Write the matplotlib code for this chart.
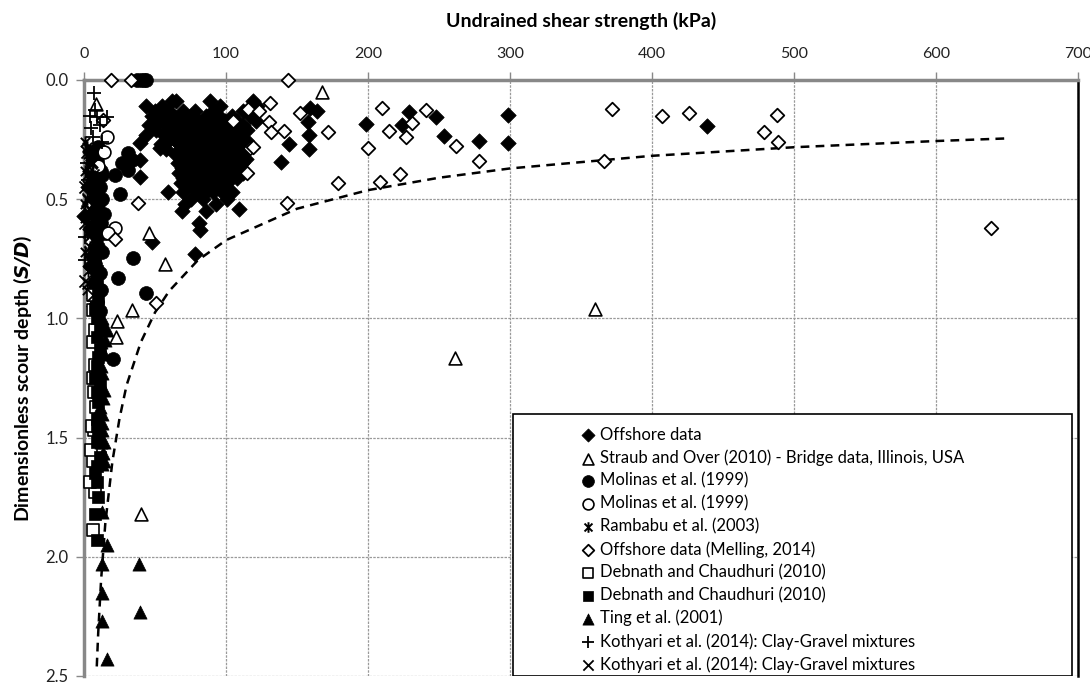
import matplotlib.pyplot as plt
from matplotlib.patches import Rectangle
from matplotlib.path import Path

# undrained shear strength Su (kPa), dimensionless scour depth S/D
offshore = [
    (65, 0.09), (89, 0.09), (119, 0.09),
    (44, 0.11), (55, 0.11), (96, 0.11), (118, 0.11), (122, 0.11),
    (50, 0.13), (60, 0.13), (70, 0.13), (78, 0.13), (91, 0.13), (112, 0.13), (120, 0.13),
    (48, 0.15), (57, 0.15), (63, 0.15), (68, 0.15), (75, 0.15), (86, 0.15), (95, 0.15), (104, 0.15), (117, 0.15),
    (53, 0.17), (60, 0.17), (66, 0.17), (72, 0.17), (80, 0.17), (88, 0.17), (99, 0.17), (108, 0.17), (121, 0.17),
    (46, 0.19), (58, 0.19), (64, 0.19), (70, 0.19), (77, 0.19), (84, 0.19), (92, 0.19), (103, 0.19), (112, 0.19),
    (51, 0.21), (62, 0.21), (68, 0.21), (74, 0.21), (82, 0.21), (90, 0.21), (97, 0.21), (106, 0.21), (115, 0.21),
    (44, 0.23), (56, 0.23), (66, 0.23), (71, 0.23), (78, 0.23), (86, 0.23), (94, 0.23), (100, 0.23), (110, 0.23),
    (60, 0.25), (64, 0.25), (70, 0.25), (76, 0.25), (81, 0.25), (88, 0.25), (95, 0.25), (103, 0.25), (108, 0.25), (114, 0.25),
    (54, 0.27), (67, 0.27), (73, 0.27), (79, 0.27), (84, 0.27), (90, 0.27), (97, 0.27), (105, 0.27), (111, 0.27),
    (58, 0.29), (70, 0.29), (75, 0.29), (80, 0.29), (86, 0.29), (92, 0.29), (99, 0.29), (107, 0.29), (113, 0.29),
    (64, 0.31), (72, 0.31), (77, 0.31), (83, 0.31), (88, 0.31), (94, 0.31), (101, 0.31), (105, 0.31), (110, 0.31),
    (68, 0.33), (74, 0.33), (79, 0.33), (85, 0.33), (90, 0.33), (96, 0.33), (103, 0.33), (108, 0.33), (114, 0.33),
    (66, 0.35), (71, 0.35), (76, 0.35), (82, 0.35), (87, 0.35), (93, 0.35), (99, 0.35), (106, 0.35), (111, 0.35),
    (69, 0.37), (74, 0.37), (80, 0.37), (85, 0.37), (90, 0.37), (96, 0.37), (101, 0.37), (109, 0.37),
    (67, 0.39), (72, 0.39), (78, 0.39), (83, 0.39), (88, 0.39), (94, 0.39), (100, 0.39), (105, 0.39), (112, 0.39),
    (70, 0.41), (75, 0.41), (81, 0.41), (86, 0.41), (92, 0.41), (97, 0.41), (103, 0.41), (108, 0.41),
    (68, 0.43), (73, 0.43), (79, 0.43), (84, 0.43), (90, 0.43), (95, 0.43), (101, 0.43),
    (72, 0.45), (77, 0.45), (82, 0.45), (88, 0.45), (93, 0.45), (99, 0.45),
    (59, 0.47), (70, 0.47), (80, 0.47), (86, 0.47), (91, 0.47), (97, 0.47), (104, 0.47),
    (75, 0.50), (84, 0.50), (101, 0.50), (71, 0.52), (93, 0.52), (69, 0.55), (86, 0.55), (109, 0.54),
    (81, 0.60), (82, 0.63), (48, 0.68), (78, 0.73),
    (0, 0.57), (39.5, 0.265), (39.5, 0.335), (39.5, 0.405), (53.6, 0.286), (61.8, 0.087),
    (159, 0.117), (164, 0.13), (158, 0.175), (158.6, 0.23), (158.6, 0.29), (144.7, 0.27), (139, 0.345),
    (198.7, 0.186), (229, 0.133), (224, 0.19), (248, 0.154), (253.4, 0.235), (278.4, 0.256),
    (298.8, 0.147), (298.8, 0.265), (438.8, 0.193),
    (4, 0.30), (7, 0.34), (3, 0.45), (6, 0.50), (9, 0.55), (5, 0.62), (8, 0.70), (4, 0.78),
]

straub_over = [
    (8.5, 0.10), (167.5, 0.05), (46, 0.64), (57, 0.77), (34, 0.965), (23.5, 1.01),
    (22.5, 1.08), (261, 1.165), (360, 0.96), (40, 1.82), (14, 1.04),
]

molinas_filled = [
    (37, 0.0), (40, 0.0), (42, 0.0), (44, 0.0),
    (31, 0.305), (26.5, 0.35), (33.6, 0.335), (31, 0.377), (22, 0.40), (25, 0.48),
    (34.7, 0.748), (24.2, 0.83), (44, 0.895), (20.5, 1.17),
    (8, 0.40), (11, 0.45), (13, 0.50), (7, 0.56), (12, 0.60), (9, 0.66), (13, 0.72),
    (8, 0.77), (11, 0.81), (12, 0.88), (9, 0.93), (14, 0.56), (15, 0.64), (10, 0.52),
    (6, 0.30), (9, 0.34), (12, 0.38), (5, 0.44), (9, 0.48), (6, 0.62), (10, 0.70),
    (6, 0.74), (7, 0.85), (11, 0.97), (13, 0.40), (10, 0.28),
]

molinas_open = [
    (16, 0.24), (22, 0.62), (17, 0.64), (10, 0.36), (14, 0.30),
]

rambabu = [
    (2, 0.28), (4, 0.32), (3, 0.36), (5, 0.40), (2, 0.44), (4, 0.48), (6, 0.52),
    (3, 0.56), (5, 0.60), (2, 0.64), (4, 0.70), (6, 0.74), (3, 0.80), (5, 0.86), (2, 0.50),
    (7, 0.30), (1, 0.38), (7, 0.44), (1, 0.58),
    (1, 0.26), (3, 0.31), (6, 0.35), (2, 0.40), (4, 0.43), (7, 0.47), (1, 0.52), (5, 0.55),
    (3, 0.60), (6, 0.67), (1, 0.72), (4, 0.76), (7, 0.82), (2, 0.88), (5, 0.93),
]

melling = [
    (19, 0.0), (33, 0.0), (144, 0.0),
    (13.6, 0.168), (38, 0.517), (21.8, 0.665), (51, 0.935), (143, 0.514),
    (179, 0.43), (208.6, 0.426), (222.7, 0.395), (210, 0.119), (214.5, 0.213), (227, 0.238),
    (231, 0.18), (240.7, 0.127), (200, 0.284), (172, 0.217), (131, 0.098), (117, 0.287),
    (114.6, 0.39), (105, 0.172), (115.8, 0.12), (123, 0.128), (130, 0.178), (132, 0.217),
    (140.5, 0.213), (152, 0.14), (119, 0.28), (261.8, 0.277), (278.4, 0.34), (366, 0.338),
    (372, 0.123), (406.8, 0.151), (426.3, 0.14), (479, 0.218), (488.3, 0.147), (489, 0.258),
    (639, 0.62),
]

debnath_open = [
    (6.1, 1.887), (7.8, 1.73), (4.2, 1.685), (6.6, 1.60), (7.0, 1.467), (5.4, 1.453),
    (8.5, 1.37), (7.0, 1.31), (6.1, 1.25), (7.8, 1.195), (6.6, 1.10), (6.6, 0.90),
    (6.6, 0.964), (5.0, 1.55), (7.5, 1.05),
]

debnath_filled = [
    (8.9, 1.93), (8.9, 1.685), (8.9, 1.52), (11.3, 1.13), (8.9, 0.845), (10, 0.92),
    (9, 1.0), (11, 1.05), (9, 1.2), (11, 1.28), (10, 1.35), (9, 1.42), (10, 1.50),
    (11, 1.58), (8, 1.65),
    (8, 0.75), (9, 0.80), (10, 0.88), (8, 0.96), (9, 1.08), (10, 1.16), (8, 1.25),
    (9, 1.31), (9, 1.45), (9, 1.62), (10, 1.75), (8, 1.82),
]

ting = [
    (12.5, 1.81), (16.4, 1.95), (12.5, 2.03), (12.5, 2.15), (12.5, 2.27), (16.4, 2.43),
    (39, 2.03), (39.5, 2.23), (12.5, 1.61), (13.2, 1.565), (12.5, 1.40), (13.6, 1.335),
    (11.3, 1.28), (16, 1.048), (13, 1.00), (12, 1.10), (14, 1.15), (12, 1.20), (13, 1.47),
    (14, 1.52), (13, 1.23), (11, 1.37), (13, 1.44), (12, 1.52), (14, 1.60), (15, 1.09),
    (14, 1.30),
]

kothyari_plus = [
    (7, 0.056), (7.7, 0.126), (9, 0.154), (16, 0.154), (11.3, 0.189), (6.6, 0.238),
    (12.5, 0.258), (4, 0.15), (1, 0.66), (1, 0.755), (3, 0.42), (2, 0.35), (5, 0.20),
]

kothyari_cross = [
    (1, 0.845), (9, 0.964), (10, 0.953), (3, 0.50), (2, 0.30), (5, 0.65), (4, 0.72),
    (0.5, 0.60), (6, 0.40), (2, 0.55), (5, 0.35), (1, 0.45), (3, 0.85), (6, 0.90),
]

# envelope curve drawn through the plot
curve_su = [9, 10, 12, 15, 20, 25, 30, 40, 50, 60, 80, 100, 150, 200, 250, 300, 400, 500, 600, 650]
curve_sd = [2.46, 2.32, 2.10, 1.86, 1.60, 1.42, 1.28, 1.10, 0.975, 0.885, 0.757, 0.672,
            0.540, 0.462, 0.410, 0.371, 0.318, 0.282, 0.256, 0.245]

plt.rcParams['font.family'] = ['Lato', 'DejaVu Sans']

# asterisk marker: an X with a vertical bar through it
star = Path([(0, -1), (0, 1), (-0.75, -0.75), (0.75, 0.75), (-0.75, 0.75), (0.75, -0.75)],
            [Path.MOVETO, Path.LINETO, Path.MOVETO, Path.LINETO, Path.MOVETO, Path.LINETO])

fig = plt.figure(figsize=(10.9, 6.93), dpi=100)
ax = fig.add_axes([84 / 1090, 1 - 676 / 693, 994 / 1090, 596 / 693])


def pts(data):
    return [p[0] for p in data], [p[1] for p in data]


series = [
    (offshore, dict(marker='D', s=62, facecolor='black', edgecolor='black', linewidths=0.5), 'Offshore data'),
    (straub_over, dict(marker='^', s=85, facecolor='white', edgecolor='black', linewidths=1.2),
     'Straub and Over (2010) - Bridge data, Illinois, USA'),
    (molinas_filled, dict(marker='o', s=100, facecolor='black', edgecolor='black', linewidths=0.5), 'Molinas et al. (1999)'),
    (molinas_open, dict(marker='o', s=85, facecolor='white', edgecolor='black', linewidths=1.2), 'Molinas et al. (1999)'),
    (rambabu, dict(marker=star, s=80, color='black', linewidths=1.4), 'Rambabu et al. (2003)'),
    (melling, dict(marker='D', s=48, facecolor='white', edgecolor='black', linewidths=1.3),
     'Offshore data (Melling, 2014)'),
    (debnath_open, dict(marker='s', s=85, facecolor='white', edgecolor='black', linewidths=1.2),
     'Debnath and Chaudhuri (2010)'),
    (debnath_filled, dict(marker='s', s=85, facecolor='black', edgecolor='black', linewidths=0.5),
     'Debnath and Chaudhuri (2010)'),
    (ting, dict(marker='^', s=90, facecolor='black', edgecolor='black', linewidths=0.5), 'Ting et al. (2001)'),
    (kothyari_plus, dict(marker='+', s=95, color='black', linewidths=1.3),
     'Kothyari et al. (2014): Clay-Gravel mixtures'),
    (kothyari_cross, dict(marker='x', s=75, color='black', linewidths=1.3),
     'Kothyari et al. (2014): Clay-Gravel mixtures'),
]

handles = []
labels = []
for data, style, label in series:
    x, y = pts(data)
    h = ax.scatter(x, y, clip_on=False, zorder=3, **style)
    handles.append(h)
    labels.append(label)

ax.plot(curve_su, curve_sd, color='black', linestyle=(0, (3.5, 2.5)), linewidth=1.8, zorder=2)

ax.set_xlim(0, 700)
ax.set_ylim(2.5, 0)
ax.set_xticks(range(0, 701, 100))
ax.set_yticks([0, 0.5, 1.0, 1.5, 2.0, 2.5])
ax.set_yticklabels(['0.0', '0.5', '1.0', '1.5', '2.0', '2.5'])
ax.xaxis.tick_top()
ax.xaxis.set_label_position('top')
ax.tick_params(axis='both', direction='out', length=6, width=1, color='#888888',
               labelsize=12, labelcolor='#222222')
ax.tick_params(axis='x', pad=8, labelsize=11.5)
ax.tick_params(axis='y', pad=5)

ax.grid(True, color='#9a9a9a', linestyle=(0, (2, 1)), linewidth=0.9, zorder=0)
ax.set_axisbelow(True)

ax.spines['top'].set_color('#888888')
ax.spines['top'].set_linewidth(2.5)
ax.spines['left'].set_color('#888888')
ax.spines['left'].set_linewidth(2.5)
ax.spines['right'].set_color('black')
ax.spines['right'].set_linewidth(1.8)
ax.spines['bottom'].set_visible(False)

ax.set_xlabel('Undrained shear strength (kPa)', fontsize=14, fontweight='bold', labelpad=14)
ax.set_ylabel(r'Dimensionless scour depth ($\mathbfit{S/D}$)', fontsize=14, fontweight='bold', labelpad=8)

# legend box with its own frame
ax.add_patch(Rectangle(((513 - 84) / 994, 0.0), (1072 - 513) / 994, (676 - 414) / 596,
                       transform=ax.transAxes, facecolor='white', edgecolor='black',
                       linewidth=1.2, zorder=4))
leg = ax.legend(handles, labels, loc='upper left', bbox_to_anchor=((570 - 84) / 994, (676 - 415) / 596),
                frameon=False, fontsize=12, handlelength=0.8, handletextpad=0.3,
                labelspacing=0.40, borderpad=0.2, scatterpoints=1, markerscale=0.85)
leg.set_zorder(5)

fig.savefig('out.png', dpi=100)
